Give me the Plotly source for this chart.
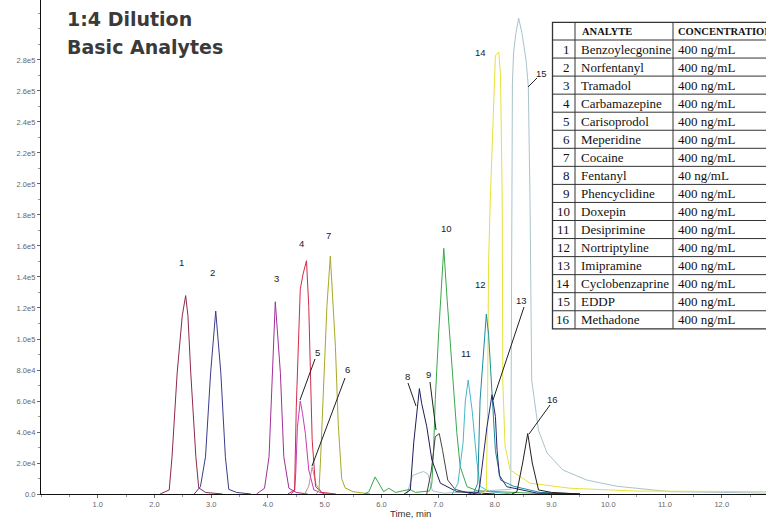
import plotly.graph_objects as go

# ---------------- data ----------------
t01 = [2.10, 2.26, 2.31, 2.40, 2.49, 2.55, 2.59, 2.64, 2.73, 2.78, 2.90, 3.20]
i01 = [0, 2600, 24000, 78000, 115000, 128000, 115000, 78000, 24000, 4000, 1000, 0]

t02 = [2.70, 2.81, 2.90, 2.99, 3.08, 3.17, 3.25, 3.31, 3.45, 3.70]
i02 = [0, 4700, 24000, 78000, 118000, 78000, 24000, 3000, 1000, 0]

t03 = [3.80, 3.94, 4.02, 4.08, 4.13, 4.22, 4.28, 4.37, 4.50, 4.70]
i03 = [0, 3700, 24000, 78000, 124000, 78000, 24000, 3700, 1000, 0]

t04 = [4.35, 4.47, 4.50, 4.54, 4.57, 4.62, 4.68, 4.72, 4.75, 4.78, 4.84, 4.95, 5.20]
i04 = [0, 2600, 56000, 99000, 132000, 142000, 150500, 121000, 78000, 35000, 4700, 1000, 0]

t05 = [4.40, 4.47, 4.49, 4.52, 4.57, 4.61, 4.66, 4.72, 4.81, 5.00]
i05 = [0, 2000, 13000, 43000, 60000, 52000, 39000, 15500, 2600, 0]

t06 = [4.65, 4.72, 4.78, 4.85, 4.95, 5.10]
i06 = [0, 5000, 17500, 6000, 1000, 0]

t07 = [4.85, 4.90, 4.93, 4.98, 5.04, 5.10, 5.15, 5.19, 5.24, 5.30, 5.36, 5.50, 5.80]
i07 = [0, 2000, 24000, 67000, 121000, 153500, 120000, 95000, 45000, 10000, 4000, 1500, 0]

t08 = [6.40, 6.51, 6.57, 6.63, 6.67, 6.71, 6.80, 6.89, 7.04, 7.33, 8.00]
i08 = [0, 2600, 33000, 55000, 68000, 58500, 43500, 22000, 7000, 1500, 0]

t09 = [6.80, 6.88, 6.95, 7.02, 7.08, 7.17, 7.30, 7.60]
i09 = [0, 15000, 37000, 39000, 28000, 9000, 3000, 0]

t10 = [5.70, 5.78, 5.89, 6.04, 6.13, 6.25, 6.50, 6.60, 6.85, 6.89, 6.92, 6.95, 7.01,
       7.10, 7.16, 7.24, 7.33, 7.39, 7.51, 7.70, 8.50, 9.00]
i10 = [0, 1500, 11000, 1500, 3700, 1000, 3000, 1000, 2000, 7000, 28000, 61000, 104000,
       158500, 125000, 82000, 39500, 17600, 4700, 2000, 1000, 0]

t11 = [7.25, 7.35, 7.44, 7.48, 7.53, 7.60, 7.68, 7.74, 7.90, 8.30]
i11 = [0, 7000, 33000, 60000, 73500, 54000, 22000, 5000, 1500, 0]

t12 = [7.62, 7.70, 7.74, 7.85, 7.89, 7.95, 8.01, 8.10, 8.33, 8.80, 9.50]
i12 = [0, 7000, 60600, 116000, 103000, 61000, 28000, 9000, 5000, 1000, 0]

t13 = [7.60, 7.71, 7.74, 7.86, 7.95, 8.01, 8.04, 8.08, 8.21, 8.74, 9.50]
i13 = [0, 1000, 7000, 43000, 64000, 50000, 28000, 12000, 4700, 600, 0]

t14 = [7.75, 7.85, 7.87, 7.89, 7.92, 7.96, 8.01, 8.07, 8.10, 8.13, 8.14, 8.18, 8.27,
       8.62, 9.33, 10.50, 12.78]
i14 = [0, 2000, 50000, 150000, 190000, 233000, 283000, 285000, 270000, 190000, 73000,
       31000, 15500, 7000, 3700, 1900, 1500]

t15 = [6.45, 6.55, 6.74, 6.82, 6.90, 7.10, 8.28, 8.29, 8.30, 8.31, 8.33, 8.37, 8.42,
       8.48, 8.55, 8.59, 8.62, 8.64, 8.65, 8.77, 8.92, 9.20, 9.62, 10.15, 11.09, 12.78]
i15 = [0, 12000, 14500, 13000, 2000, 500, 3000, 80000, 180000, 265000, 284500, 297000,
       307000, 297000, 280000, 263000, 190000, 120000, 73500, 41000, 26500, 15500, 9000,
       5000, 1500, 600]

t16 = [8.30, 8.39, 8.49, 8.58, 8.66, 8.77, 9.00, 9.50]
i16 = [0, 1500, 20000, 39000, 20000, 2600, 1000, 0]

analytes = ["Benzoylecgonine", "Norfentanyl", "Tramadol", "Carbamazepine", "Carisoprodol",
            "Meperidine", "Cocaine", "Fentanyl", "Phencyclidine", "Doxepin", "Desiprimine",
            "Nortriptyline", "Imipramine", "Cyclobenzaprine", "EDDP", "Methadone"]
concentrations = ["400 ng/mL"] * 7 + ["40 ng/mL"] + ["400 ng/mL"] * 8

colors = ["#8e2a4a", "#3c3c8c", "#a0309a", "#d42a4a", "#c83cb4", "#c09090", "#a8a828",
          "#1e1e5a", "#444444", "#3aa84a", "#48b8c8", "#1e8c9c", "#282870", "#e6e23a",
          "#a8c4cc", "#202020"]

y_tickvals = [0, 20000, 40000, 60000, 80000, 100000, 120000, 140000, 160000, 180000,
              200000, 220000, 240000, 260000, 280000]
y_ticktext = ["0.0", "2.0e4", "4.0e4", "6.0e4", "8.0e4", "1.0e5", "1.2e5", "1.4e5",
              "1.6e5", "1.8e5", "2.0e5", "2.2e5", "2.4e5", "2.6e5", "2.8e5"]
x_tickvals = [1, 2, 3, 4, 5, 6, 7, 8, 9, 10, 11, 12]
x_ticktext = ["1.0", "2.0", "3.0", "4.0", "5.0", "6.0", "7.0", "8.0", "9.0", "10.0",
              "11.0", "12.0"]

# ---------------- figure ----------------
W, H = 766, 523
ML, MB = 41, 29
PW, PH = W - ML, H - MB


def px(x):
    return (x - ML) / PW


def py(y):
    return (PH - y) / PH


series = [(t01, i01), (t02, i02), (t03, i03), (t04, i04), (t05, i05), (t06, i06),
          (t07, i07), (t08, i08), (t09, i09), (t10, i10), (t11, i11), (t12, i12),
          (t13, i13), (t14, i14), (t15, i15), (t16, i16)]
order = [14, 0, 1, 2, 5, 4, 3, 6, 9, 8, 7, 10, 13, 11, 12, 15]

fig = go.Figure()
for k in order:
    tx, iy = series[k]
    fig.add_trace(go.Scatter(x=tx, y=iy, mode="lines", name=f"{k+1} {analytes[k]}",
                             line=dict(color=colors[k], width=1), hoverinfo="x+y+name"))

annotations = []
shapes = []

# title (two lines)
title_font = dict(family="DejaVu Sans", size=19, color="#3a3a3a")
annotations.append(dict(text="<b>1:4 Dilution</b>", xref="paper", yref="paper",
                        x=px(65), y=py(19), xanchor="left", yanchor="middle",
                        showarrow=False, font=title_font))
annotations.append(dict(text="<b>Basic Analytes</b>", xref="paper", yref="paper",
                        x=px(65), y=py(47), xanchor="left", yanchor="middle",
                        showarrow=False, font=title_font))

# axis title
annotations.append(dict(text="Time, min", xref="paper", yref="paper", x=px(410), y=py(513),
                        xanchor="center", yanchor="middle", showarrow=False,
                        font=dict(family="Liberation Sans", size=9.5, color="#333333")))

# peak labels
peak_labels = [("1", 181, 262), ("2", 212, 273), ("3", 276, 278), ("4", 301, 243),
               ("5", 317, 352), ("6", 347, 369), ("7", 328, 236), ("8", 407, 376),
               ("9", 428, 374), ("10", 446, 228), ("11", 466, 353), ("12", 480, 284),
               ("13", 521, 300), ("14", 480, 52), ("15", 541, 73), ("16", 552, 399)]
for txt, x, y in peak_labels:
    annotations.append(dict(text=txt, xref="paper", yref="paper", x=px(x), y=py(y),
                            xanchor="center", yanchor="middle", showarrow=False,
                            font=dict(family="Liberation Sans", size=9.5, color="#222222")))

leaders = [(315, 359, 300, 400), (345, 378, 312, 466), (408, 383, 416, 406),
           (430, 382, 436, 430), (524, 307, 493, 400), (537, 78, 528, 87),
           (550, 405, 529, 434)]
for x0, y0, x1, y1 in leaders:
    shapes.append(dict(type="line", xref="paper", yref="paper", x0=px(x0), y0=py(y0),
                       x1=px(x1), y1=py(y1), line=dict(color="#222222", width=1)))

# table
T_LEFT, T_RIGHT, T_TOP = 552.5, 800, 22.3
HEAD_H, ROW_H = 17.7, 18.05
C1, C2 = 575, 673
n = len(analytes)
T_BOT = T_TOP + HEAD_H + n * ROW_H
shapes.append(dict(type="rect", xref="paper", yref="paper", x0=px(T_LEFT), y0=py(T_TOP),
                   x1=px(T_RIGHT), y1=py(T_BOT), fillcolor="white",
                   line=dict(color="#333333", width=1.3), layer="above"))
for r in range(n):
    yy = T_TOP + HEAD_H + r * ROW_H
    shapes.append(dict(type="line", xref="paper", yref="paper", x0=px(T_LEFT), y0=py(yy),
                       x1=px(T_RIGHT), y1=py(yy), line=dict(color="#333333", width=1)))
for xx in (C1, C2):
    shapes.append(dict(type="line", xref="paper", yref="paper", x0=px(xx), y0=py(T_TOP),
                       x1=px(xx), y1=py(T_BOT), line=dict(color="#333333", width=1)))

serif = "Liberation Serif"
hy = T_TOP + HEAD_H / 2
annotations.append(dict(text="<b>ANALYTE</b>", xref="paper", yref="paper", x=px(580), y=py(hy),
                        xanchor="left", yanchor="middle", showarrow=False,
                        font=dict(family=serif, size=10.5, color="#111111")))
annotations.append(dict(text="<b>CONCENTRATION</b>", xref="paper", yref="paper", x=px(676), y=py(hy),
                        xanchor="left", yanchor="middle", showarrow=False,
                        font=dict(family=serif, size=10.5, color="#111111")))
for r in range(n):
    cy = T_TOP + HEAD_H + r * ROW_H + ROW_H / 2
    annotations.append(dict(text=str(r + 1), xref="paper", yref="paper", x=px(571.5), y=py(cy),
                            xanchor="right", yanchor="middle", showarrow=False,
                            font=dict(family=serif, size=13, color="#111111")))
    annotations.append(dict(text=analytes[r], xref="paper", yref="paper", x=px(579), y=py(cy),
                            xanchor="left", yanchor="middle", showarrow=False,
                            font=dict(family=serif, size=13, color="#111111")))
    annotations.append(dict(text=concentrations[r], xref="paper", yref="paper", x=px(676), y=py(cy),
                            xanchor="left", yanchor="middle", showarrow=False,
                            font=dict(family=serif, size=13, color="#111111")))

fig.update_layout(
    width=W, height=H,
    margin=dict(l=ML, r=0, t=0, b=MB, pad=0),
    paper_bgcolor="white", plot_bgcolor="white",
    showlegend=False,
    annotations=annotations, shapes=shapes,
    xaxis=dict(range=[0, 12.78], showgrid=False, zeroline=False, showline=True,
               linecolor="#111111", linewidth=1.2, ticks="outside", ticklen=3,
               tickcolor="#666666", tickvals=x_tickvals, ticktext=x_ticktext,
               tickfont=dict(family="Liberation Sans", size=7.5, color="#666666"),
               minor=dict(tickmode="linear", tick0=0, dtick=0.5, ticks="outside",
                          ticklen=2, tickcolor="#999999")),
    yaxis=dict(range=[0, 318700], showgrid=False, zeroline=False, showline=True,
               linecolor="#111111", linewidth=1.2, ticks="outside", ticklen=3,
               tickcolor="#666666", tickvals=y_tickvals, ticktext=y_ticktext,
               tickfont=dict(family="Liberation Sans", size=7.5, color="#666666"),
               minor=dict(tickmode="linear", tick0=0, dtick=10000, ticks="outside",
                          ticklen=2, tickcolor="#999999")),
)

fig.write_html("out.html",
               config={"displayModeBar": False},
               post_script="document.body.style.margin='0px';"
                           "document.body.style.overflow='hidden';")
